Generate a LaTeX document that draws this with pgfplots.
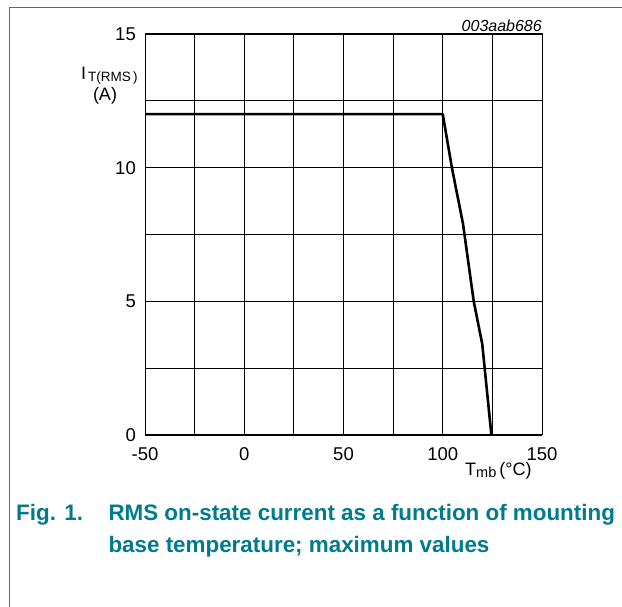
\documentclass[border=0pt]{standalone}
\usepackage{fontspec}
\setmainfont{Liberation Sans}
\usepackage{pgfplots}
\pgfplotsset{compat=1.18}
\definecolor{nxpteal}{RGB}{0,122,140}
\definecolor{frameteal}{RGB}{40,120,150}
\begin{document}
\begin{tikzpicture}
\useasboundingbox (0,0) rectangle (622bp,607bp);
\draw[frameteal, line width=1.3bp] (9.3bp,0) -- (9.3bp,599.7bp) -- (622bp,599.7bp);
\begin{axis}[
  at={(145bp,172bp)}, anchor=south west,
  scale only axis, width=397bp, height=401bp,
  xmin=-50, xmax=150, ymin=0, ymax=15,
  xtick={-50,0,50,100,150}, xticklabels={-50,0,50,100,150},
  ytick={0,5,10,15}, yticklabels={0,5,10,15},
  minor xtick={-25,25,75,125}, minor ytick={2.5,7.5,12.5},
  grid=both,
  major grid style={black, line width=0.9bp},
  minor grid style={black, line width=0.9bp},
  axis line style={black, line width=1bp},
  major tick length=0pt, minor tick length=0pt,
  tick label style={font=\fontsize{18.5bp}{21bp}\selectfont, inner sep=0pt},
  yticklabel style={xshift=-9bp},
  xticklabel style={yshift=-12bp},
  clip=false,
]
\addplot[black, line width=2.6bp, line join=round] coordinates {
  (-50,12) (100,12) (104.6,10) (110.2,7.9) (115.6,5.0) (119.9,3.4) (124.5,0)
};
\end{axis}
% annotations
\node[anchor=base east, inner sep=0, font=\fontsize{16bp}{18bp}\selectfont\itshape] at (542bp,575.5bp) {003aab686};
\node[anchor=base west, inner sep=0, font=\fontsize{18bp}{20bp}\selectfont] at (81bp,527bp) {I};
\node[anchor=base west, inner sep=0, font=\fontsize{13.5bp}{15bp}\selectfont] at (88bp,525.5bp) {T(RMS\,)};
\node[anchor=center, inner sep=0, font=\fontsize{18bp}{20bp}\selectfont] at (105bp,511bp) {(A)};
\node[anchor=base west, inner sep=0, font=\fontsize{18bp}{20bp}\selectfont] at (465bp,131bp) {T{\fontsize{14.5bp}{16bp}\selectfont\raisebox{-2bp}{mb}}\,(°C)};
\node[anchor=base west, inner sep=0, text=nxpteal, font=\fontsize{22.4bp}{26bp}\selectfont\bfseries] at (16bp,86.5bp) {Fig. 1.};
\node[anchor=base west, inner sep=0, text=nxpteal, font=\fontsize{22.4bp}{26bp}\selectfont\bfseries] at (108.3bp,86.5bp) {RMS on-state current as a function of mounting};
\node[anchor=base west, inner sep=0, text=nxpteal, font=\fontsize{22.4bp}{26bp}\selectfont\bfseries] at (108.3bp,54.3bp) {base temperature; maximum values};
\end{tikzpicture}
\end{document}
